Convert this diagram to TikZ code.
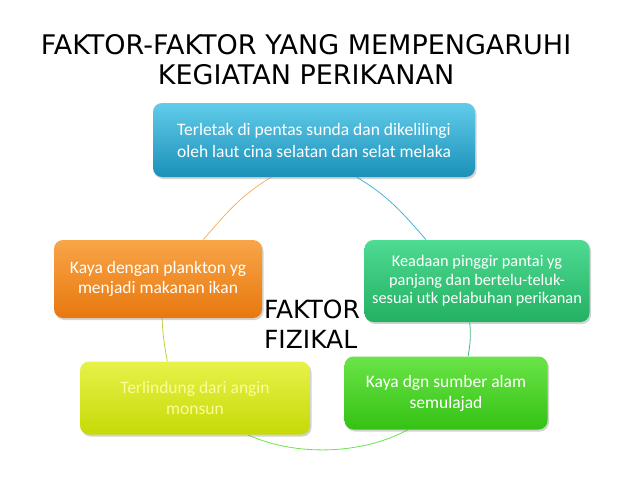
\documentclass[tikz,border=0pt]{standalone}
\usepackage{fontspec}
\setmainfont{Carlito}
\newfontfamily\titlefont{DejaVu Sans}
\usetikzlibrary{shadows}
\usetikzlibrary{backgrounds}
\usetikzlibrary{positioning}

\definecolor{blueTop}{HTML}{62CCEA}
\definecolor{blueBot}{HTML}{1A90B8}
\definecolor{tealTop}{HTML}{4EDB92}
\definecolor{tealBot}{HTML}{22B062}
\definecolor{orgTop}{HTML}{F8A548}
\definecolor{orgBot}{HTML}{E8780E}
\definecolor{yelTop}{HTML}{E6F24A}
\definecolor{yelBot}{HTML}{C6DA06}
\definecolor{grnTop}{HTML}{6AE448}
\definecolor{grnBot}{HTML}{34C214}

\begin{document}
\begin{tikzpicture}[x=1pt,y=-1pt,semithick]
 \tikzstyle{fbox}=[rounded corners=9pt, inner sep=3pt, align=center, text=white,
   drop shadow={shadow xshift=1.5pt, shadow yshift=-2pt, opacity=0.35}]
 \tikzstyle{ring}=[line width=0.8pt]
 \useasboundingbox (0,0) rectangle (638,479);

 \node[font=\titlefont\fontsize{27}{30}\selectfont, align=center] (title) at (306,60)
   {FAKTOR-FAKTOR YANG MEMPENGARUHI\\KEGIATAN PERIKANAN};

 % kotak-kotak faktor
 \node[fbox, minimum width=322pt, minimum height=74pt, top color=blueTop, bottom color=blueBot,
   font=\fontsize{17.5}{22}\selectfont] (T) at (314,140)
   {Terletak di pentas sunda dan dikelilingi\\oleh laut cina selatan dan selat melaka};
 \node[fbox, minimum width=225pt, minimum height=82pt, top color=tealTop, bottom color=tealBot,
   font=\fontsize{16.3}{18.5}\selectfont] (R) at (477,281)
   {Keadaan pinggir pantai yg\\panjang dan bertelu-teluk-\\sesuai utk pelabuhan perikanan};
 \node[fbox, minimum width=203pt, minimum height=73pt, top color=grnTop, bottom color=grnBot,
   font=\fontsize{17.5}{21}\selectfont] (BR) at (446,393)
   {Kaya dgn sumber alam\\semulajad};
 \node[fbox, minimum width=230pt, minimum height=73pt, top color=yelTop, bottom color=yelBot,
   text=yellow!40!white, font=\fontsize{17.5}{21}\selectfont] (BL) at (195,398)
   {Terlindung dari angin\\monsun};
 \node[fbox, minimum width=208pt, minimum height=78pt, top color=orgTop, bottom color=orgBot,
   font=\fontsize{17.5}{20}\selectfont] (L) at (158,279)
   {Kaya dengan plankton yg\\menjadi makanan ikan};

 \node[font=\titlefont\fontsize{25}{30}\selectfont, align=left] (centre) at (312,324)
   {FAKTOR\\FIZIKAL};

 % lingkaran
 \begin{pgfonlayer}{background}
 \path
   (T.221)  edge[ring, draw=orgTop!85!white, out=211, in=49] (L.41)
   (T.319)  edge[ring, draw=blueTop!60!blueBot, out=329, in=131] (R.141)
   (R.260)  edge[ring, draw=tealTop!85!black, out=-85, in=80] (BR.59)
   (BR.224) edge[ring, draw=grnTop, out=208, in=336, looseness=0.85] (BL.325)
   (BL.127) edge[ring, draw=yelTop!85!black, out=100, in=272] (L.276);
 \end{pgfonlayer}
\end{tikzpicture}
\end{document}
